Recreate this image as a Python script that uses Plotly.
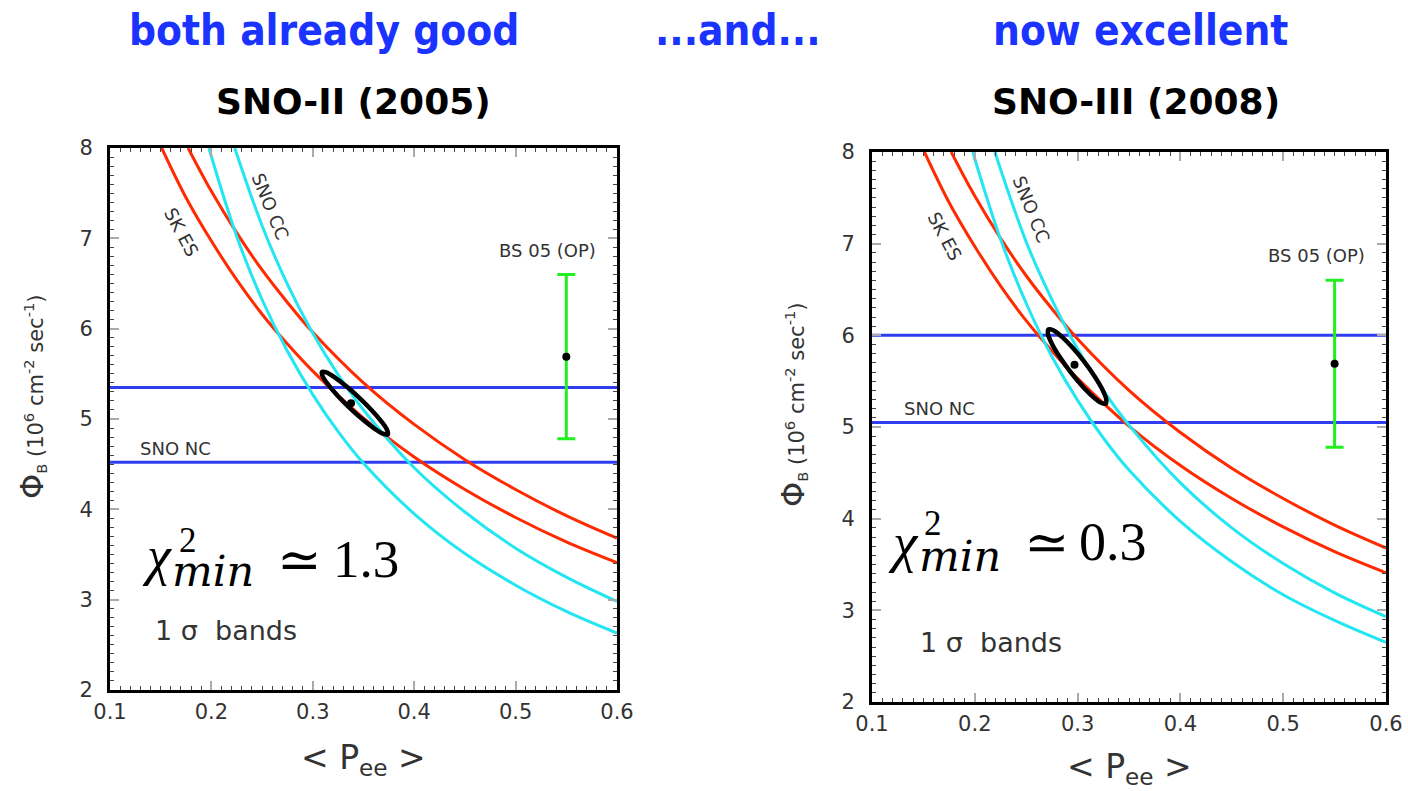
import plotly.graph_objects as go

W, H = 1408, 791

# ---------------- data ----------------
# SK ES band (same in both panels)
es_low_x = [0.151, 0.175, 0.2, 0.225, 0.25, 0.275, 0.3, 0.35, 0.4, 0.45, 0.5, 0.55, 0.6]
es_low_y = [8.0, 7.45, 6.97, 6.54, 6.16, 5.83, 5.53, 5.01, 4.58, 4.22, 3.91, 3.64, 3.41]
es_high_x = [0.177, 0.2, 0.225, 0.25, 0.275, 0.3, 0.35, 0.4, 0.45, 0.5, 0.55, 0.6]
es_high_y = [8.0, 7.52, 7.06, 6.65, 6.29, 5.96, 5.40, 4.94, 4.55, 4.22, 3.93, 3.68]

# SNO CC band, SNO-II (2005)
cc05_low_x = [0.1975, 0.225, 0.25, 0.275, 0.3, 0.325, 0.35, 0.4, 0.45, 0.5, 0.55, 0.6]
cc05_low_y = [8.0, 7.02, 6.32, 5.75, 5.27, 4.86, 4.51, 3.95, 3.51, 3.16, 2.87, 2.63]
cc05_high_x = [0.223, 0.25, 0.275, 0.3, 0.325, 0.35, 0.4, 0.45, 0.5, 0.55, 0.6]
cc05_high_y = [8.0, 7.14, 6.49, 5.95, 5.49, 5.10, 4.46, 3.97, 3.57, 3.25, 2.98]

# SNO CC band, SNO-III (2008)
cc08_low_x = [0.198, 0.225, 0.25, 0.275, 0.3, 0.325, 0.35, 0.4, 0.45, 0.5, 0.55, 0.6]
cc08_low_y = [8.0, 7.05, 6.35, 5.77, 5.29, 4.88, 4.53, 3.97, 3.53, 3.17, 2.89, 2.65]
cc08_high_x = [0.2195, 0.25, 0.275, 0.3, 0.325, 0.35, 0.4, 0.45, 0.5, 0.55, 0.6]
cc08_high_y = [8.0, 7.02, 6.39, 5.85, 5.40, 5.02, 4.39, 3.90, 3.51, 3.19, 2.93]

# SNO NC band (horizontal lines)
nc_x = [0.1, 0.6]
nc05 = [4.52, 5.35]
nc08 = [5.05, 6.00]

# BS05 (OP) prediction
bs_x = [0.55]
bs_y = [5.69]
bs_err_up = [0.91]
bs_err_dn = [0.91]

# best fits and 1-sigma contours
fit05_x = [0.3377]
fit05_y = [5.175]
ell05_x = [0.3740, 0.3733, 0.3678, 0.3583, 0.3462, 0.3334, 0.3219, 0.3133, 0.3090,
           0.3097, 0.3152, 0.3247, 0.3368, 0.3496, 0.3611, 0.3697, 0.3740]
ell05_y = [4.8295, 4.8773, 4.9705, 5.0948, 5.2313, 5.3592, 5.4591, 5.5157, 5.5205,
           5.4727, 5.3795, 5.2552, 5.1187, 4.9908, 4.8909, 4.8343, 4.8295]

fit08_x = [0.297]
fit08_y = [5.68]
ell08_x = [0.3274, 0.3278, 0.3239, 0.3163, 0.3062, 0.2950, 0.2845, 0.2763, 0.2717,
           0.2712, 0.2751, 0.2827, 0.2928, 0.3040, 0.3145, 0.3227, 0.3274]
ell08_y = [5.2549, 5.3072, 5.4133, 5.5569, 5.7162, 5.8669, 5.9861, 6.0558, 6.0651,
           6.0128, 5.9067, 5.7631, 5.6038, 5.4531, 5.3339, 5.2642, 5.2549]

x_ticks = [0.1, 0.2, 0.3, 0.4, 0.5, 0.6]
y_ticks = [2, 3, 4, 5, 6, 7, 8]

# ---------------- styling ----------------
RED = "#ff2a00"
CYAN = "#22e6f2"
BLUE = "#2f3cf2"
GREEN = "#22ee22"
TICKFONT = dict(family="DejaVu Sans", size=21, color="#333333")
LABELFONT = dict(family="DejaVu Sans", size=18, color="#333333")

fig = go.Figure()


def add_panel(xa, ya, cc_low, cc_high, nc, fit, ell):
    def line(x, y, color, width=3, shape="spline"):
        fig.add_trace(go.Scatter(x=x, y=y, mode="lines", xaxis=xa, yaxis=ya,
                                 line=dict(color=color, width=width, shape=shape),
                                 showlegend=False, hoverinfo="skip"))
    for v in nc:
        line(nc_x, [v, v], BLUE, 3, "linear")
    line(es_low_x, es_low_y, RED)
    line(es_high_x, es_high_y, RED)
    line(cc_low[0], cc_low[1], CYAN)
    line(cc_high[0], cc_high[1], CYAN)
    line(ell[0], ell[1], "black", 4.5)
    fig.add_trace(go.Scatter(x=fit[0], y=fit[1], mode="markers", xaxis=xa, yaxis=ya,
                             marker=dict(color="black", size=8), showlegend=False))
    fig.add_trace(go.Scatter(x=bs_x, y=bs_y, mode="markers", xaxis=xa, yaxis=ya,
                             marker=dict(color="black", size=8),
                             error_y=dict(type="data", array=bs_err_up, arrayminus=bs_err_dn,
                                          color=GREEN, thickness=3, width=9),
                             showlegend=False))


add_panel("x", "y", (cc05_low_x, cc05_low_y), (cc05_high_x, cc05_high_y), nc05,
          (fit05_x, fit05_y), (ell05_x, ell05_y))
add_panel("x2", "y2", (cc08_low_x, cc08_low_y), (cc08_high_x, cc08_high_y), nc08,
          (fit08_x, fit08_y), (ell08_x, ell08_y))


def axis_common(**kw):
    d = dict(showline=True, linecolor="black", linewidth=3, mirror="allticks",
             ticks="inside", ticklen=9, tickwidth=1.5, tickcolor="#aaaaaa",
             showgrid=False, zeroline=False, tickfont=TICKFONT, automargin=False)
    d.update(kw)
    return d


xa_common = dict(range=[0.1, 0.6], tickvals=x_ticks, ticktext=[f"{v:.1f}" for v in x_ticks],
                 minor=dict(dtick=0.01, tick0=0.1, ticks="inside", ticklen=4, tickwidth=1,
                            tickcolor="#444444", showgrid=False),
                 ticklabelstandoff=1)
ya_common = dict(range=[2, 8], tickvals=y_ticks,
                 minor=dict(dtick=0.1, tick0=2, ticks="inside", ticklen=4, tickwidth=1,
                            tickcolor="#444444", showgrid=False),
                 ticklabelstandoff=10)

L = dict(x0=110, x1=617, y0=148, y1=690)
R = dict(x0=872, x1=1386, y0=152, y1=702)

fig.update_layout(
    width=W, height=H, margin=dict(l=0, r=0, t=0, b=0, pad=0, autoexpand=False),
    paper_bgcolor="white", plot_bgcolor="white",
    xaxis=axis_common(domain=[L["x0"] / W, L["x1"] / W], anchor="y", **xa_common),
    yaxis=axis_common(domain=[1 - L["y1"] / H, 1 - L["y0"] / H], anchor="x", **ya_common),
    xaxis2=axis_common(domain=[R["x0"] / W, R["x1"] / W], anchor="y2", **xa_common),
    yaxis2=axis_common(domain=[1 - R["y1"] / H, 1 - R["y0"] / H], anchor="x2", **ya_common),
)

ann = []


def ptxt(text, px, py, font, xanchor="center", yanchor="middle", angle=0):
    ann.append(dict(text=text, x=px / W, y=1 - py / H, xref="paper", yref="paper",
                    xanchor=xanchor, yanchor=yanchor, showarrow=False, font=font,
                    textangle=angle))


def dtxt(text, x, y, xr, yr, font, angle=0):
    ann.append(dict(text=text, x=x, y=y, xref=xr, yref=yr, xanchor="center",
                    yanchor="middle", showarrow=False, font=font, textangle=angle))


# headline texts
TITLE_BLUE = dict(family="DejaVu Sans Condensed, DejaVu Sans", size=42, color="#1a33ff",
                  weight="bold")
ptxt("both already good", 324, 31, TITLE_BLUE)
ptxt("...and...", 738, 31, TITLE_BLUE)
ptxt("now excellent", 1140, 31, TITLE_BLUE)
SUBT = dict(family="DejaVu Sans", size=36, color="black", weight="bold")
ptxt("SNO-II (2005)", 353, 102, SUBT)
ptxt("SNO-III (2008)", 1136, 102, SUBT)

# axis titles
YT = dict(family="DejaVu Sans", size=21, color="#333333")
ytitle = ("<span style='font-size:32px'>Φ</span><sub>B</sub> (10<sup>6</sup> cm<sup>-2</sup>"
          " sec<sup>-1</sup>)")
ptxt(ytitle, 32, 397, YT, angle=-90)
ptxt(ytitle, 793, 405, YT, angle=-90)
XT = dict(family="DejaVu Sans", size=33, color="#333333")
ptxt("&lt; P<sub>ee</sub> &gt;", 363, 759, XT)
ptxt("&lt; P<sub>ee</sub> &gt;", 1129, 768, XT)

# curve labels
for xr, yr, es_pos, cc_pos, nc_pos, bs_pos, band_pos in [
    ("x", "y", (0.171, 7.07), (0.258, 7.35), (0.165, 4.67), (0.531, 6.87), (0.2146, 2.66)),
    ("x2", "y2", (0.171, 7.08), (0.255, 7.37), (0.166, 5.20), (0.532, 6.87), (0.216, 2.65)),
]:
    dtxt("SK ES", es_pos[0], es_pos[1], xr, yr, LABELFONT, angle=62)
    dtxt("SNO CC", cc_pos[0], cc_pos[1], xr, yr, LABELFONT, angle=68)
    dtxt("SNO NC", nc_pos[0], nc_pos[1], xr, yr, LABELFONT)
    dtxt("BS 05 (OP)", bs_pos[0], bs_pos[1], xr, yr, LABELFONT)
    dtxt("1 σ  bands", band_pos[0], band_pos[1], xr, yr,
         dict(family="DejaVu Sans", size=27, color="#333333"))

# chi^2_min annotations
SERIF = "Liberation Serif, DejaVu Serif"
ISERIF = "DejaVu Serif"
for (cx, cy), (sx, sy), (mx, my), (ex, ey), (nx, ny), val, fs in [
    ((140, 556), (177, 540), (170, 571), (275, 559), (331, 559), "1.3", 53),
    ((886, 542), (922, 523), (917, 556), (1022, 542), (1077, 542), "0.3", 54),
]:
    ptxt("<i>χ</i>", cx, cy, dict(family=SERIF, size=fs + 1, color="black"), xanchor="left")
    ptxt("2", sx, sy, dict(family=SERIF, size=35, color="black"), xanchor="left")
    ptxt("<i>min</i>", mx, my, dict(family=ISERIF, size=43, color="black"), xanchor="left")
    ptxt("≃", ex, ey, dict(family="DejaVu Serif", size=fs, color="black"), xanchor="left")
    ptxt(val, nx, ny, dict(family=SERIF, size=fs, color="black"), xanchor="left")

fig.update_layout(annotations=ann)
fig.write_html("out.html")
